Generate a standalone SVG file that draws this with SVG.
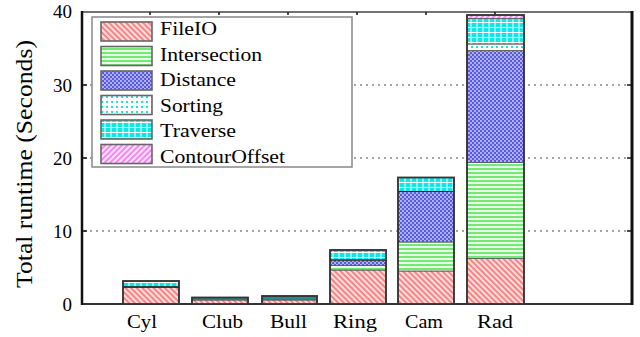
<svg xmlns="http://www.w3.org/2000/svg" width="640" height="337" viewBox="0 0 640 337">
<style>
  text { font-family: "Liberation Serif", "Times New Roman", serif; fill: #000; }
  .lbl { font-size: 19px; }
  .tick { font-size: 19px; text-anchor: end; }
  .grid { stroke: #888; stroke-width: 1.3; stroke-dasharray: 2 4; fill: none; }
  .seg { stroke: #555; stroke-width: 0.8; }
  .bar { fill: none; stroke: #333; stroke-width: 1.8; }
  .sw { stroke: #666; stroke-width: 1.6; }
</style>
<defs>
  <pattern id="pFile" width="4" height="4" patternUnits="userSpaceOnUse" patternTransform="rotate(-45)">
    <rect width="4" height="4" fill="#ffdede"/>
    <line x1="1" y1="0" x2="1" y2="4" stroke="#f04848" stroke-width="1.2"/>
  </pattern>
  <pattern id="pInter" width="4" height="4" patternUnits="userSpaceOnUse">
    <rect width="4" height="4" fill="#e6ffe6"/>
    <line x1="0" y1="1" x2="4" y2="1" stroke="#44dd44" stroke-width="1.4"/>
  </pattern>
  <pattern id="pDist" width="4" height="4" patternUnits="userSpaceOnUse">
    <rect width="4" height="4" fill="#5a5ae0"/>
    <circle cx="1" cy="1" r="0.9" fill="#d8d8ff"/>
    <circle cx="3" cy="3" r="0.9" fill="#d8d8ff"/>
  </pattern>
  <pattern id="pSort" width="5" height="5" patternUnits="userSpaceOnUse">
    <rect width="5" height="5" fill="#ffffff"/>
    <rect x="1" y="1" width="2" height="2" fill="#22e0e0"/>
  </pattern>
  <pattern id="pTrav" width="6" height="5" patternUnits="userSpaceOnUse">
    <rect width="6" height="5" fill="#10e6e6"/>
    <line x1="0" y1="2.5" x2="6" y2="2.5" stroke="#ffffff" stroke-width="1"/>
    <line x1="3" y1="0" x2="3" y2="5" stroke="#ffffff" stroke-width="1"/>
  </pattern>
  <pattern id="pCont" width="4" height="4" patternUnits="userSpaceOnUse" patternTransform="rotate(45)">
    <rect width="4" height="4" fill="#ffe6ff"/>
    <line x1="1" y1="0" x2="1" y2="4" stroke="#ee44ee" stroke-width="1.2"/>
  </pattern>
</defs>

<g id="gridlines">
  <line class="grid" x1="84" y1="85" x2="628" y2="85"/>
  <line class="grid" x1="84" y1="158" x2="628" y2="158"/>
  <line class="grid" x1="84" y1="231" x2="628" y2="231"/>
</g>

<g id="axes">
  <line x1="82" y1="12" x2="632" y2="12" stroke="#444" stroke-width="1.5"/>
  <line x1="82" y1="304" x2="632" y2="304" stroke="#333" stroke-width="2"/>
  <line x1="82" y1="11" x2="82" y2="305" stroke="#111" stroke-width="2.5"/>
  <line x1="632" y1="11" x2="632" y2="305" stroke="#111" stroke-width="3"/>
  <g stroke="#111" stroke-width="1.5">
    <line x1="82" y1="85" x2="87" y2="85"/>
    <line x1="82" y1="158" x2="87" y2="158"/>
    <line x1="82" y1="231" x2="87" y2="231"/>
    <line x1="627" y1="85" x2="632" y2="85"/>
    <line x1="627" y1="158" x2="632" y2="158"/>
    <line x1="627" y1="231" x2="632" y2="231"/>
    <line x1="150" y1="12" x2="150" y2="15"/>
    <line x1="219" y1="12" x2="219" y2="15"/>
    <line x1="288" y1="12" x2="288" y2="15"/>
    <line x1="357" y1="12" x2="357" y2="15"/>
    <line x1="426" y1="12" x2="426" y2="15"/>
    <line x1="495" y1="12" x2="495" y2="15"/>
  </g>
  <text class="tick" x="72" y="18">40</text>
  <text class="tick" x="72" y="92">30</text>
  <text class="tick" x="72" y="165">20</text>
  <text class="tick" x="72" y="238">10</text>
  <text class="tick" x="72" y="311">0</text>
  <text x="0" y="0" font-size="23" text-anchor="middle" textLength="248" lengthAdjust="spacingAndGlyphs" transform="translate(32,164) rotate(-90)">Total runtime (Seconds)</text>
</g>

<g id="bar-cyl">
  <rect class="seg" x="123" y="287" width="56" height="17" fill="url(#pFile)"/>
  <rect class="seg" x="123" y="281" width="56" height="6" fill="url(#pTrav)"/>
  <line x1="123" y1="287" x2="179" y2="287" stroke="#222" stroke-width="1.5"/>
  <rect class="bar" x="123" y="281" width="56" height="23"/>
</g>
<g id="bar-club">
  <rect class="seg" x="192" y="300" width="56" height="4" fill="url(#pFile)"/>
  <rect class="seg" x="192" y="297.5" width="56" height="2.5" fill="#2a8a8a"/>
  <rect class="bar" x="192" y="297.5" width="56" height="6.5"/>
</g>
<g id="bar-bull">
  <rect class="seg" x="262" y="300" width="55" height="4" fill="url(#pFile)"/>
  <rect class="seg" x="262" y="296" width="55" height="4" fill="#2a8a8a"/>
  <rect class="bar" x="262" y="296" width="55" height="8"/>
</g>
<g id="bar-ring">
  <rect class="seg" x="330" y="270" width="56" height="34" fill="url(#pFile)"/>
  <rect class="seg" x="330" y="265.5" width="56" height="4.5" fill="url(#pInter)"/>
  <rect class="seg" x="330" y="260" width="56" height="5.5" fill="url(#pDist)"/>
  <rect class="seg" x="330" y="250" width="56" height="10" fill="url(#pTrav)"/>
  <line x1="330" y1="260" x2="386" y2="260" stroke="#222" stroke-width="1.2"/>
  <rect class="bar" x="330" y="250" width="56" height="54"/>
</g>
<g id="bar-cam">
  <rect class="seg" x="398" y="271" width="56" height="33" fill="url(#pFile)"/>
  <rect class="seg" x="398" y="242" width="56" height="29" fill="url(#pInter)"/>
  <rect class="seg" x="398" y="191.5" width="56" height="50.5" fill="url(#pDist)"/>
  <rect class="seg" x="398" y="177.5" width="56" height="14" fill="url(#pTrav)"/>
  <line x1="398" y1="191.5" x2="454" y2="191.5" stroke="#222" stroke-width="1.2"/>
  <rect class="bar" x="398" y="177.5" width="56" height="126.5"/>
</g>
<g id="bar-rad">
  <rect class="seg" x="467" y="258.5" width="57" height="45.5" fill="url(#pFile)"/>
  <rect class="seg" x="467" y="162.5" width="57" height="96" fill="url(#pInter)"/>
  <rect class="seg" x="467" y="50.5" width="57" height="112" fill="url(#pDist)"/>
  <rect class="seg" x="467" y="44" width="57" height="6.5" fill="url(#pSort)"/>
  <rect class="seg" x="467" y="18.5" width="57" height="25.5" fill="url(#pTrav)"/>
  <rect class="seg" x="467" y="15" width="57" height="3.5" fill="url(#pCont)"/>
  <rect class="bar" x="467" y="15" width="57" height="289"/>
</g>

<g id="xlabels">
  <text class="lbl" x="127" y="328" textLength="30" lengthAdjust="spacingAndGlyphs">Cyl</text>
  <text class="lbl" x="202" y="328" textLength="41" lengthAdjust="spacingAndGlyphs">Club</text>
  <text class="lbl" x="270" y="328" textLength="37" lengthAdjust="spacingAndGlyphs">Bull</text>
  <text class="lbl" x="333" y="328" textLength="44" lengthAdjust="spacingAndGlyphs">Ring</text>
  <text class="lbl" x="405" y="328" textLength="38" lengthAdjust="spacingAndGlyphs">Cam</text>
  <text class="lbl" x="477" y="328" textLength="36" lengthAdjust="spacingAndGlyphs">Rad</text>
</g>

<g id="legend">
  <rect x="92" y="17" width="260" height="150" fill="#fff" stroke="#888" stroke-width="1.5"/>
  <g id="leg-fileio">
    <rect class="sw" x="101" y="22" width="51" height="19" fill="url(#pFile)"/>
    <text class="lbl" x="160" y="35" textLength="57" lengthAdjust="spacingAndGlyphs">FileIO</text>
  </g>
  <g id="leg-intersection">
    <rect class="sw" x="101" y="46.5" width="51" height="19" fill="url(#pInter)"/>
    <text class="lbl" x="160" y="60.5" textLength="102" lengthAdjust="spacingAndGlyphs">Intersection</text>
  </g>
  <g id="leg-distance">
    <rect class="sw" x="101" y="71" width="51" height="19" fill="url(#pDist)"/>
    <text class="lbl" x="160" y="86" textLength="76" lengthAdjust="spacingAndGlyphs">Distance</text>
  </g>
  <g id="leg-sorting">
    <rect class="sw" x="101" y="95.5" width="51" height="19" fill="url(#pSort)"/>
    <text class="lbl" x="160" y="111.5" textLength="63" lengthAdjust="spacingAndGlyphs">Sorting</text>
  </g>
  <g id="leg-traverse">
    <rect class="sw" x="101" y="120" width="51" height="19" fill="url(#pTrav)"/>
    <text class="lbl" x="160" y="137" textLength="76" lengthAdjust="spacingAndGlyphs">Traverse</text>
  </g>
  <g id="leg-contour">
    <rect class="sw" x="101" y="144.5" width="51" height="19" fill="url(#pCont)"/>
    <text class="lbl" x="160" y="162.5" textLength="125" lengthAdjust="spacingAndGlyphs">ContourOffset</text>
  </g>
</g>
</svg>
